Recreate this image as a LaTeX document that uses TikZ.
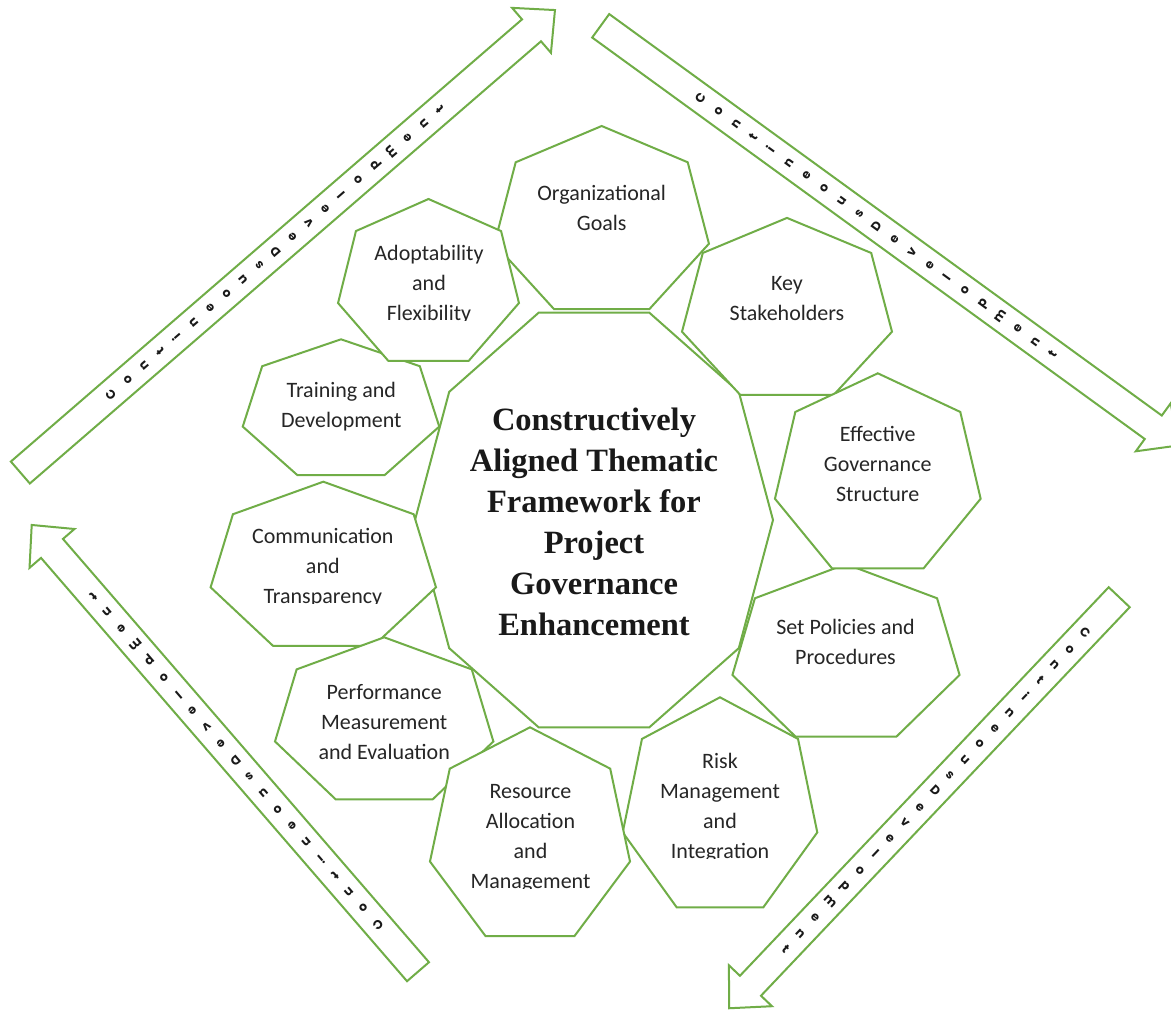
\documentclass[tikz,border=0pt]{standalone}
\usepackage{fontspec}
\setmainfont{Carlito}
\newfontfamily\centralfont{Liberation Serif}
\newfontfamily\arrowfont{Poppins}
\definecolor{ggreen}{HTML}{70AD47}
\definecolor{txtgray}{HTML}{262626}

% heptagon: name, cx, cy (screen, y down), rx, ry
\newcommand{\Hept}[5]{%
  \draw[shapeline, shift={(#2,-#3)}, xscale=#4, yscale=#5]
    (90:1) -- (141.4286:1) -- (192.8571:1) -- (244.2857:1) -- (295.7143:1) -- (347.1429:1) -- (38.5714:1) -- cycle;
  \coordinate (#1) at (#2,-#3);}

% arrow: name, tail x, tail y (screen), angle, length tail-to-tip
\newcommand{\CDArrow}[5]{%
  \begin{scope}[shift={(#2,-#3)}, rotate=#4]
    \coordinate (#1) at (0,0);
    \draw[arrowline] (0,14.5) -- (#5-31,14.5) -- (#5-31,29.7) -- (#5,0)
      -- (#5-31,-29.7) -- (#5-31,-14.5) -- (0,-14.5) -- cycle;
    \foreach \ch [count=\i from 0] in {C,o,n,t,i,n,e,o,u,s,D,e,v,e,l,o,p,m,e,n,t}
      \node[letter, rotate=#4+90] (#1-\i) at ({(#5-31)/2+(\i-10)*21.75},0) {\ch};
  \end{scope}}

\begin{document}
\begin{tikzpicture}[x=1pt,y=1pt,
  shapeline/.style={draw=ggreen, line width=2pt, fill=white},
  arrowline/.style={draw=ggreen, line width=2pt, fill=white},
  htext/.style={font=\fontsize{22}{30}\selectfont, text=txtgray, align=center, inner sep=0pt},
  ctext/.style={font=\centralfont\bfseries\fontsize{32.5}{41}\selectfont, text=black!90, align=center, inner sep=0pt},
  letter/.style={font=\arrowfont\bfseries\fontsize{12.5}{14}\selectfont, inner sep=0pt, text height=7pt, text depth=0pt, text=black!90}]

\path[use as bounding box] (0,0) rectangle (1171,-1010);
\fill[white] (0,0) rectangle (1171,-1010);
\clip (0,0) rectangle (1171,-1010);

% arrows
\CDArrow{arrowNW}{20.35}{472.5}{40.86}{706.9}
\CDArrow{arrowNE}{600.7}{25.8}{-36.0}{714.0}
\CDArrow{arrowSW}{418}{971.7}{130.85}{590.6}
\CDArrow{arrowSE}{1119.2}{597.2}{-133.5}{566.7}

% central decagon
\draw[shapeline, shift={(594,-520)}, xscale=179, yscale=218]
  (0:1) -- (36:1) -- (72:1) -- (108:1) -- (144:1) -- (180:1) -- (216:1) -- (252:1) -- (288:1) -- (324:1) -- cycle;
\coordinate (centre) at (594,-520);
\node[ctext] (centraltext) at (594,-524.3)
  {\strut Constructively\\\strut Aligned Thematic\\\strut Framework for\\\strut Project\\\strut Governance\\\strut Enhancement};

% heptagons
\Hept{org}{601.7}{222.3}{110}{96.3}
\node[htext] (t-org) at (601.7,-209.9) {\strut Organizational\\\strut Goals};

\Hept{key}{787}{311}{107.7}{93.1}
\node[htext] (t-key) at (787,-299) {\strut Key\\\strut Stakeholders};

\Hept{pol}{846}{654.8}{116.5}{90.7}
\node[htext] (t-pol) at (845.5,-643) {\strut Set Policies and\\\strut Procedures};

\Hept{eff}{877.8}{475.9}{105.5}{102.6}
\node[htext] (t-eff) at (877.7,-465.7) {\strut Effective\\\strut Governance\\\strut Structure};

\Hept{risk}{720}{807.8}{99.8}{110.5}
\begin{scope}
  \clip (610,-740) rectangle (830,-858);
  \node[htext] (t-risk) at (720,-807.2) {\strut Risk\\\strut Management\\\strut and\\\strut Integration};
\end{scope}

\Hept{comm}{323.3}{568.1}{115.6}{86.4}
\begin{scope}
  \clip (200,-500) rectangle (450,-603.5);
  \node[htext] (t-comm) at (322.8,-567) {\strut Communication\\\strut and\\\strut Transparency};
\end{scope}

\Hept{perf}{384.2}{722.5}{112}{85.2}
\node[htext] (t-perf) at (384.2,-723.2) {\strut Performance\\\strut Measurement\\\strut and Evaluation};

\Hept{res}{530}{837.1}{102.6}{109.8}
\begin{scope}
  \clip (420,-760) rectangle (640,-888);
  \node[htext] (t-res) at (530.5,-837) {\strut Resource\\\strut Allocation\\\strut and\\\strut Management};
\end{scope}

\Hept{train}{341}{410.7}{100.8}{71.4}
\node[htext] (t-train) at (341.3,-406.2) {\strut Training and\\\strut Development};

\Hept{adopt}{428.5}{284.1}{92.8}{85.1}
\begin{scope}
  \clip (330,-220) rectangle (530,-320.2);
  \node[htext] (t-adopt) at (429,-284.9) {\strut Adoptability\\\strut and\\\strut Flexibility};
\end{scope}

\end{tikzpicture}
\end{document}
